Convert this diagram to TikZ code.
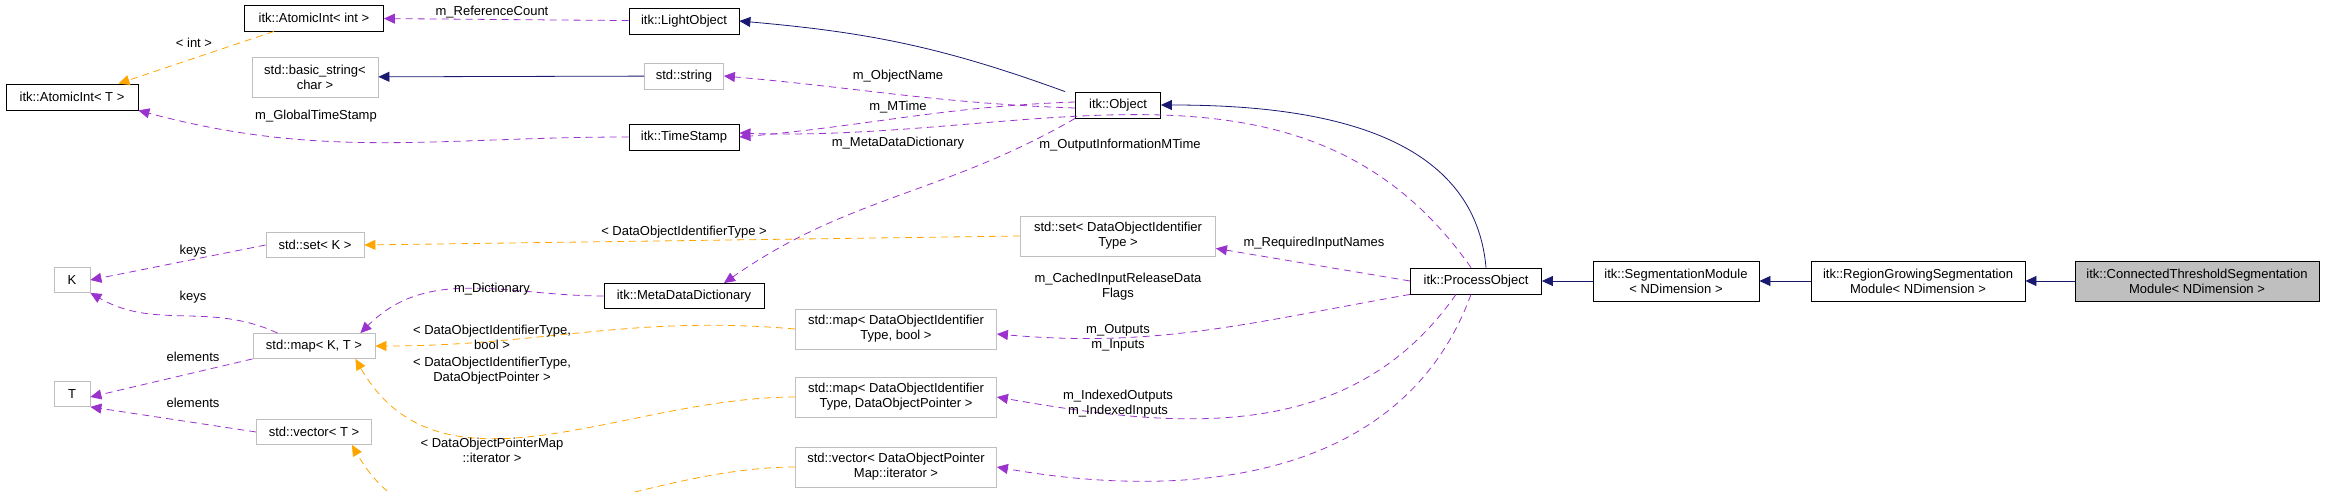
\documentclass[tikz,border=0pt]{standalone}
\usepackage{fontspec}
\setmainfont{Liberation Sans}
\usetikzlibrary{arrows.meta, positioning}

\definecolor{navy}{HTML}{191970}
\definecolor{purp}{HTML}{9A32CD}
\definecolor{orng}{HTML}{FFA500}

\tikzset{
  box/.style={draw=black, thick, fill=white, inner sep=0pt, align=center, font=\fontsize{13}{15}\selectfont},
  ext/.style={box, draw=black!25},
  lbl/.style={align=center, font=\fontsize{13}{15}\selectfont, inner sep=0pt},
  inh/.style={draw=navy, thick, -{Triangle[length=11pt,width=10pt]}},
  use/.style={draw=purp, thick, dashed, dash pattern=on 7pt off 5pt, -{Triangle[length=11pt,width=10pt]}},
  tpl/.style={draw=orng, thick, dashed, dash pattern=on 7pt off 5pt, -{Triangle[length=11pt,width=10pt]}}
}

\begin{document}
\begin{tikzpicture}[x=1pt, y=-1pt]
  \useasboundingbox (0,0) rectangle (2325,492);

  \node[box, minimum width=132, minimum height=26] (ait)  at (72, 97)   {itk::AtomicInt< T >};
  \node[box, minimum width=139, minimum height=26] (aint) at (314, 18)  {itk::AtomicInt< int >};
  \node[box, minimum width=110, minimum height=26] (lo)   at (684, 21)  {itk::LightObject};
  \node[ext, minimum width=126, minimum height=40] (bs)   at (315, 77)  {std::basic\_string<\\char >};
  \node[ext, minimum width=79,  minimum height=26] (str)  at (684, 76)  {std::string};
  \node[box, minimum width=110, minimum height=26] (ts)   at (684, 137) {itk::TimeStamp};
  \node[box, minimum width=85,  minimum height=26] (obj)  at (1118, 105) {itk::Object};
  \node[ext, minimum width=98,  minimum height=25] (setk) at (315, 245) {std::set< K >};
  \node[ext, minimum width=36,  minimum height=25] (k)    at (72, 280)  {K};
  \node[box, minimum width=160, minimum height=25] (mdd)  at (684, 296) {itk::MetaDataDictionary};
  \node[ext, minimum width=122, minimum height=25] (mapkt) at (314, 346) {std::map< K, T >};
  \node[ext, minimum width=36,  minimum height=25] (t)    at (72, 394)  {T};
  \node[ext, minimum width=115, minimum height=25] (vect) at (314, 432) {std::vector< T >};
  \node[ext, minimum width=195, minimum height=40] (setd) at (1118, 236) {std::set< DataObjectIdentifier\\Type >};
  \node[ext, minimum width=201, minimum height=40] (mapb) at (896, 329)  {std::map< DataObjectIdentifier\\Type, bool >};
  \node[ext, minimum width=201, minimum height=40] (mapp) at (896, 397)  {std::map< DataObjectIdentifier\\Type, DataObjectPointer >};
  \node[ext, minimum width=201, minimum height=40] (veci) at (896, 467)  {std::vector< DataObjectPointer\\Map::iterator >};
  \node[box, minimum width=131, minimum height=26] (po)   at (1476, 281) {itk::ProcessObject};
  \node[box, minimum width=166, minimum height=40] (sm)   at (1676, 281) {itk::SegmentationModule\\< NDimension >};
  \node[box, minimum width=214, minimum height=40] (rg)   at (1918, 281) {itk::RegionGrowingSegmentation\\Module< NDimension >};
  \node[box, fill=black!25, minimum width=244, minimum height=40] (ct) at (2197, 281) {itk::ConnectedThresholdSegmentation\\Module< NDimension >};

  % inheritance
  \draw[inh] (str) -- (bs);
  \draw[inh] ([xshift=-10]obj.north west) to[out=160, in=-5] (lo.east);
  \draw[inh] ([xshift=10]po.north) to[out=95, in=0] (obj.east);
  \draw[inh] (sm) -- (po);
  \draw[inh] (rg) -- (sm);
  \draw[inh] (ct) -- (rg);

  % members
  \draw[use] (lo) -- (aint);
  \draw[use] (ts.west) to[out=180, in=-15] (ait.south east);
  \draw[use] ([yshift=-3]obj.west) to[out=178, in=-5] (str.east);
  \draw[use] ([yshift=3]obj.west) to[out=182, in=5] (ts.east);
  \draw[use] ([xshift=-5]po.north) to[out=125, in=-2] ([yshift=4]ts.east);
  \draw[use] (obj.south west) to[out=-150, in=35] ([xshift=40]mdd.north);
  \draw[use] (mdd.west) to[out=180, in=45] ([xshift=-15]mapkt.north east);
  \draw[use] (setk.west) -- (k.east);
  \draw[use] ([xshift=25]mapkt.north west) to[out=155, in=-30] (k.south east);
  \draw[use] (mapkt.south west) -- ([yshift=-3]t.east);
  \draw[use] (vect.west) -- (t.south east);
  \draw[use] (po.west) -- ([yshift=8]setd.south east);
  \draw[use] (po.south west) to[out=-170, in=-5] ([yshift=-5]mapb.east);
  \draw[use] ([xshift=-20]po.south) to[out=-125, in=-10] (mapp.east);
  \draw[use] ([xshift=-5]po.south) to[out=-110, in=-10] (veci.east);

  % templates
  \draw[tpl] ([xshift=30]aint.south west) -- ([xshift=-20]ait.north east);
  \draw[tpl] (setd.west) -- (setk.east);
  \draw[tpl] (mapb.west) to[out=175, in=0] (mapkt.east);
  \draw[tpl] (mapp.west) to[out=180, in=-60] ([xshift=-20]mapkt.south east);
  \draw[tpl] (veci.west) to[out=180, in=-60] ([xshift=-20]vect.south east);

  % labels
  \node[lbl] (l1)  at (492, 12)   {m\_ReferenceCount};
  \node[lbl] (l2)  at (194, 43)   {< int >};
  \node[lbl] (l3)  at (316, 116)  {m\_GlobalTimeStamp};
  \node[lbl] (l4)  at (898, 76)   {m\_ObjectName};
  \node[lbl] (l5)  at (898, 107)  {m\_MTime};
  \node[lbl] (l6)  at (898, 143)  {m\_MetaDataDictionary};
  \node[lbl] (l7)  at (1120, 145) {m\_OutputInformationMTime};
  \node[lbl] (l8)  at (684, 232)  {< DataObjectIdentifierType >};
  \node[lbl] (l9)  at (1314, 243) {m\_RequiredInputNames};
  \node[lbl] (l10) at (1118, 287) {m\_CachedInputReleaseData\\Flags};
  \node[lbl] (l11) at (1118, 338) {m\_Outputs\\m\_Inputs};
  \node[lbl] (l12) at (1118, 404) {m\_IndexedOutputs\\m\_IndexedInputs};
  \node[lbl] (l13) at (193, 251)  {keys};
  \node[lbl] (l14) at (193, 297)  {keys};
  \node[lbl] (l15) at (193, 357)  {elements};
  \node[lbl] (l16) at (193, 403)  {elements};
  \node[lbl] (l17) at (492, 289)  {m\_Dictionary};
  \node[lbl] (l18) at (492, 337)  {< DataObjectIdentifierType,\\bool >};
  \node[lbl] (l19) at (492, 371)  {< DataObjectIdentifierType,\\DataObjectPointer >};
  \node[lbl] (l20) at (492, 450)  {< DataObjectPointerMap\\::iterator >};
\end{tikzpicture}
\end{document}
